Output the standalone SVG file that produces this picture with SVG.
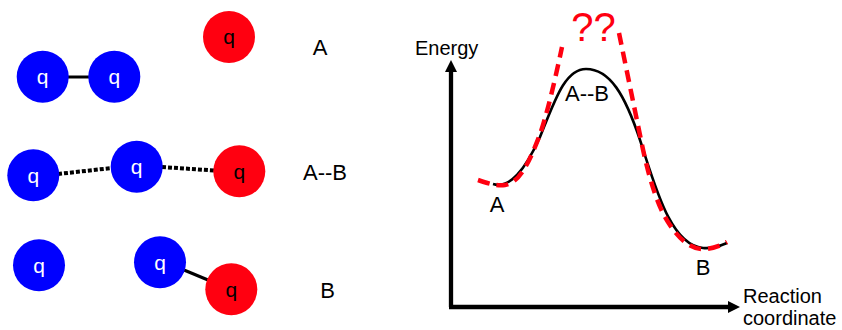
<svg xmlns="http://www.w3.org/2000/svg" width="842" height="330" viewBox="0 0 842 330">
<defs>
<style>
.blue{fill:#0000ff}
.red{fill:#ff0010}
.qw{font-family:"Liberation Sans",Arial,sans-serif;font-size:21px;fill:#fff;text-anchor:middle}
.qb{font-family:"Liberation Sans",Arial,sans-serif;font-size:21px;fill:#000;text-anchor:middle}
.lbl{font-family:"Liberation Sans",Arial,sans-serif;font-size:22px;fill:#000;text-anchor:middle}
.ax{font-family:"Liberation Sans",Arial,sans-serif;font-size:20px;fill:#000}
.bond{stroke:#000;stroke-width:3;fill:none}
.hb{stroke:#000;stroke-width:4;stroke-dasharray:4 2;fill:none}
.axis{stroke:#000;stroke-width:4.3;fill:none}
</style>
<marker id="ah" viewBox="0 0 12 12" refX="0" refY="6" markerWidth="12" markerHeight="12" markerUnits="userSpaceOnUse" orient="auto">
<path d="M0,0 L12,6 L0,12 Z" fill="#000"/>
</marker>
</defs>
<rect width="842" height="330" fill="#fff"/>
<g id="connectors">
<line class="bond" x1="68" y1="77" x2="89" y2="77"/>
<line class="hb" x1="58" y1="174" x2="112" y2="168"/>
<line class="hb" x1="162" y1="167" x2="214" y2="170.5"/>
<line class="bond" x1="184" y1="270" x2="208" y2="280"/>
</g>
<g id="nodeA_red"><circle class="red" cx="229" cy="37" r="26"/><text class="qb" x="229" y="44">q</text></g>
<g id="nodeA_blue1"><circle class="blue" cx="42.7" cy="76.7" r="26"/><text class="qw" x="42.7" y="84">q</text></g>
<g id="nodeA_blue2"><circle class="blue" cx="114.3" cy="76.7" r="26"/><text class="qw" x="114.3" y="84">q</text></g>
<g id="nodeAB_blue1"><circle class="blue" cx="33.3" cy="175.3" r="26"/><text class="qw" x="33.3" y="182.5">q</text></g>
<g id="nodeAB_blue2"><circle class="blue" cx="136.7" cy="166.7" r="26"/><text class="qw" x="136.7" y="174">q</text></g>
<g id="nodeAB_red"><circle class="red" cx="239.3" cy="171.3" r="26"/><text class="qb" x="239.3" y="178.5">q</text></g>
<g id="nodeB_blue1"><circle class="blue" cx="39" cy="265.3" r="26"/><text class="qw" x="39" y="272.5">q</text></g>
<g id="nodeB_blue2"><circle class="blue" cx="160" cy="262.3" r="26"/><text class="qw" x="160" y="269.5">q</text></g>
<g id="nodeB_red"><circle class="red" cx="231.3" cy="289.3" r="26"/><text class="qb" x="231.3" y="296.5">q</text></g>
<g id="labels">
<text class="lbl" x="320" y="55">A</text>
<text class="lbl" x="325" y="180">A--B</text>
<text class="lbl" x="327.5" y="298">B</text>
</g>
<g id="chart">
<line class="axis" x1="451" y1="307" x2="451" y2="72" marker-end="url(#ah)"/>
<line class="axis" x1="449" y1="307" x2="728" y2="307" marker-end="url(#ah)"/>
<text class="ax" x="415" y="55">Energy</text>
<text class="ax" x="743" y="303">Reaction</text>
<text class="ax" x="743" y="325">coordinate</text>
<path d="M 493 184 C 510 189, 525 170, 540 137 C 555 100, 565 69, 586 69 C 610 69, 625 95, 640 140 C 655 185, 670 245, 703 248 C 712 249, 720 246, 727 243" fill="none" stroke="#000" stroke-width="2.6"/>
<path d="M 478 180 C 490 184, 497 186, 505 185 C 520 183, 530 160, 539 137 C 547 115, 555 80, 562 47" fill="none" stroke="#ff0010" stroke-width="4.5" stroke-dasharray="12 7"/>
<path d="M 619 33 L 641 140 C 648 175, 657 205, 668 222 C 678 238, 690 249, 703 249 C 712 249, 720 246, 727 242" fill="none" stroke="#ff0010" stroke-width="4.5" stroke-dasharray="12 7"/>
<text x="593.5" y="40.5" font-family="Liberation Sans, Arial, sans-serif" font-size="40" fill="#ff0010" text-anchor="middle">??</text>
<text class="lbl" x="497" y="212">A</text>
<text class="lbl" x="587" y="101">A--B</text>
<text class="lbl" x="703" y="275">B</text>
</g>
</svg>
